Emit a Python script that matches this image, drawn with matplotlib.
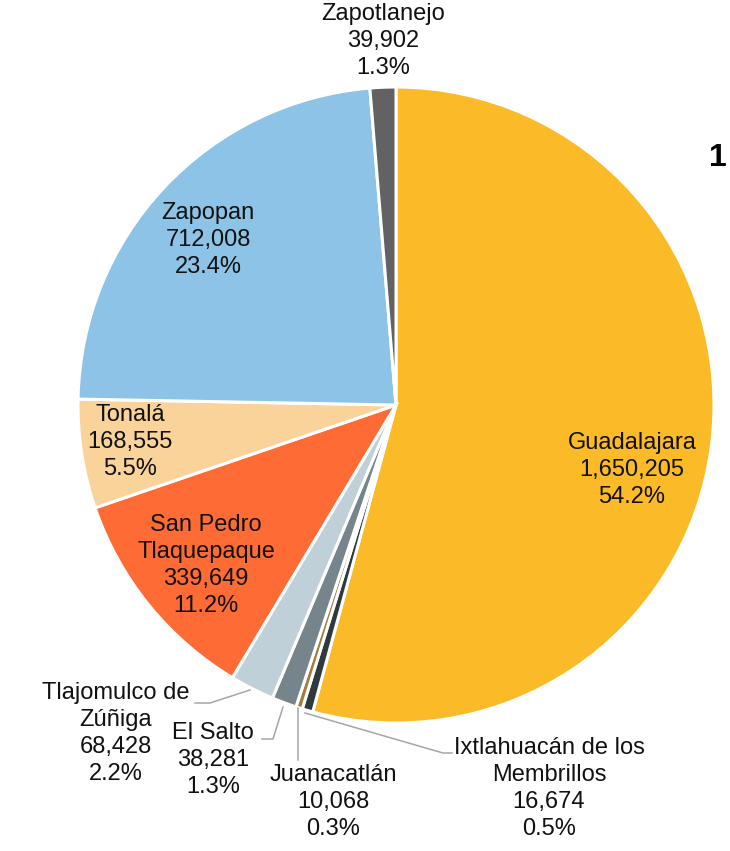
import matplotlib
matplotlib.use("Agg")
import matplotlib.pyplot as plt

plt.rcParams['font.family'] = ['Liberation Sans', 'DejaVu Sans']

# data, clockwise from 12 o'clock
municipios = ['Guadalajara', 'Ixtlahuacán de los\nMembrillos', 'Juanacatlán', 'El Salto',
              'Tlajomulco de\nZúñiga', 'San Pedro\nTlaquepaque', 'Tonalá', 'Zapopan', 'Zapotlanejo']
poblacion = [1650205, 16674, 10068, 38281, 68428, 339649, 168555, 712008, 39902]
porcentaje = ['54.2%', '0.5%', '0.3%', '1.3%', '2.2%', '11.2%', '5.5%', '23.4%', '1.3%']
colores = ['#FBBA28', '#2F3A40', '#A67C3A', '#76848B', '#BFD0D8',
           '#FF6B35', '#F9D39A', '#8CC3E6', '#626262']

W, H = 730, 851
cx, cy, R = 396, 405, 318


def px(x, y):
    # pixel position -> data coords (pie centre 0,0, radius 1)
    return (x - cx) / R, (cy - y) / R


fig = plt.figure(figsize=(W / 100, H / 100), dpi=100)
ax = fig.add_axes([0, 0, 1, 1])
ax.pie(poblacion, colors=colores, startangle=90, counterclock=False, radius=1,
       wedgeprops=dict(edgecolor='white', linewidth=2.2))
ax.set_xlim(-cx / R, (W - cx) / R)
ax.set_ylim((cy - H) / R, cy / R)
ax.set_aspect('equal')
ax.axis('off')

# label anchor: x centre and y of first line, in pixels
label_pos = [(632, 443), (549, 748), (333, 775), (213, 733), (116, 693),
             (206, 525), (130, 415), (208, 213), (383, 14)]
step = 27
for name, val, pct, (lx, ly) in zip(municipios, poblacion, porcentaje, label_pos):
    lines = name.split('\n') + [f'{val:,}', pct]
    for i, s in enumerate(lines):
        ax.text(*px(lx, ly + i * step), s, ha='center', va='center',
                fontsize=17, color='#111111')

# leader lines
leaders = [
    [(250, 690), (210, 703), (195, 703)],
    [(283, 707), (273, 739), (262, 739)],
    [(298, 708), (298, 760)],
    [(305, 713), (443, 753), (452, 753)],
]
for pts in leaders:
    xs, ys = zip(*[px(x, y) for x, y in pts])
    ax.plot(xs, ys, color='#A6A6A6', linewidth=1.1)

fig.text(709 / W, 1 - 158 / H, '1', fontsize=23, fontweight='bold', va='center', ha='left')

fig.savefig('out.png', dpi=100)
